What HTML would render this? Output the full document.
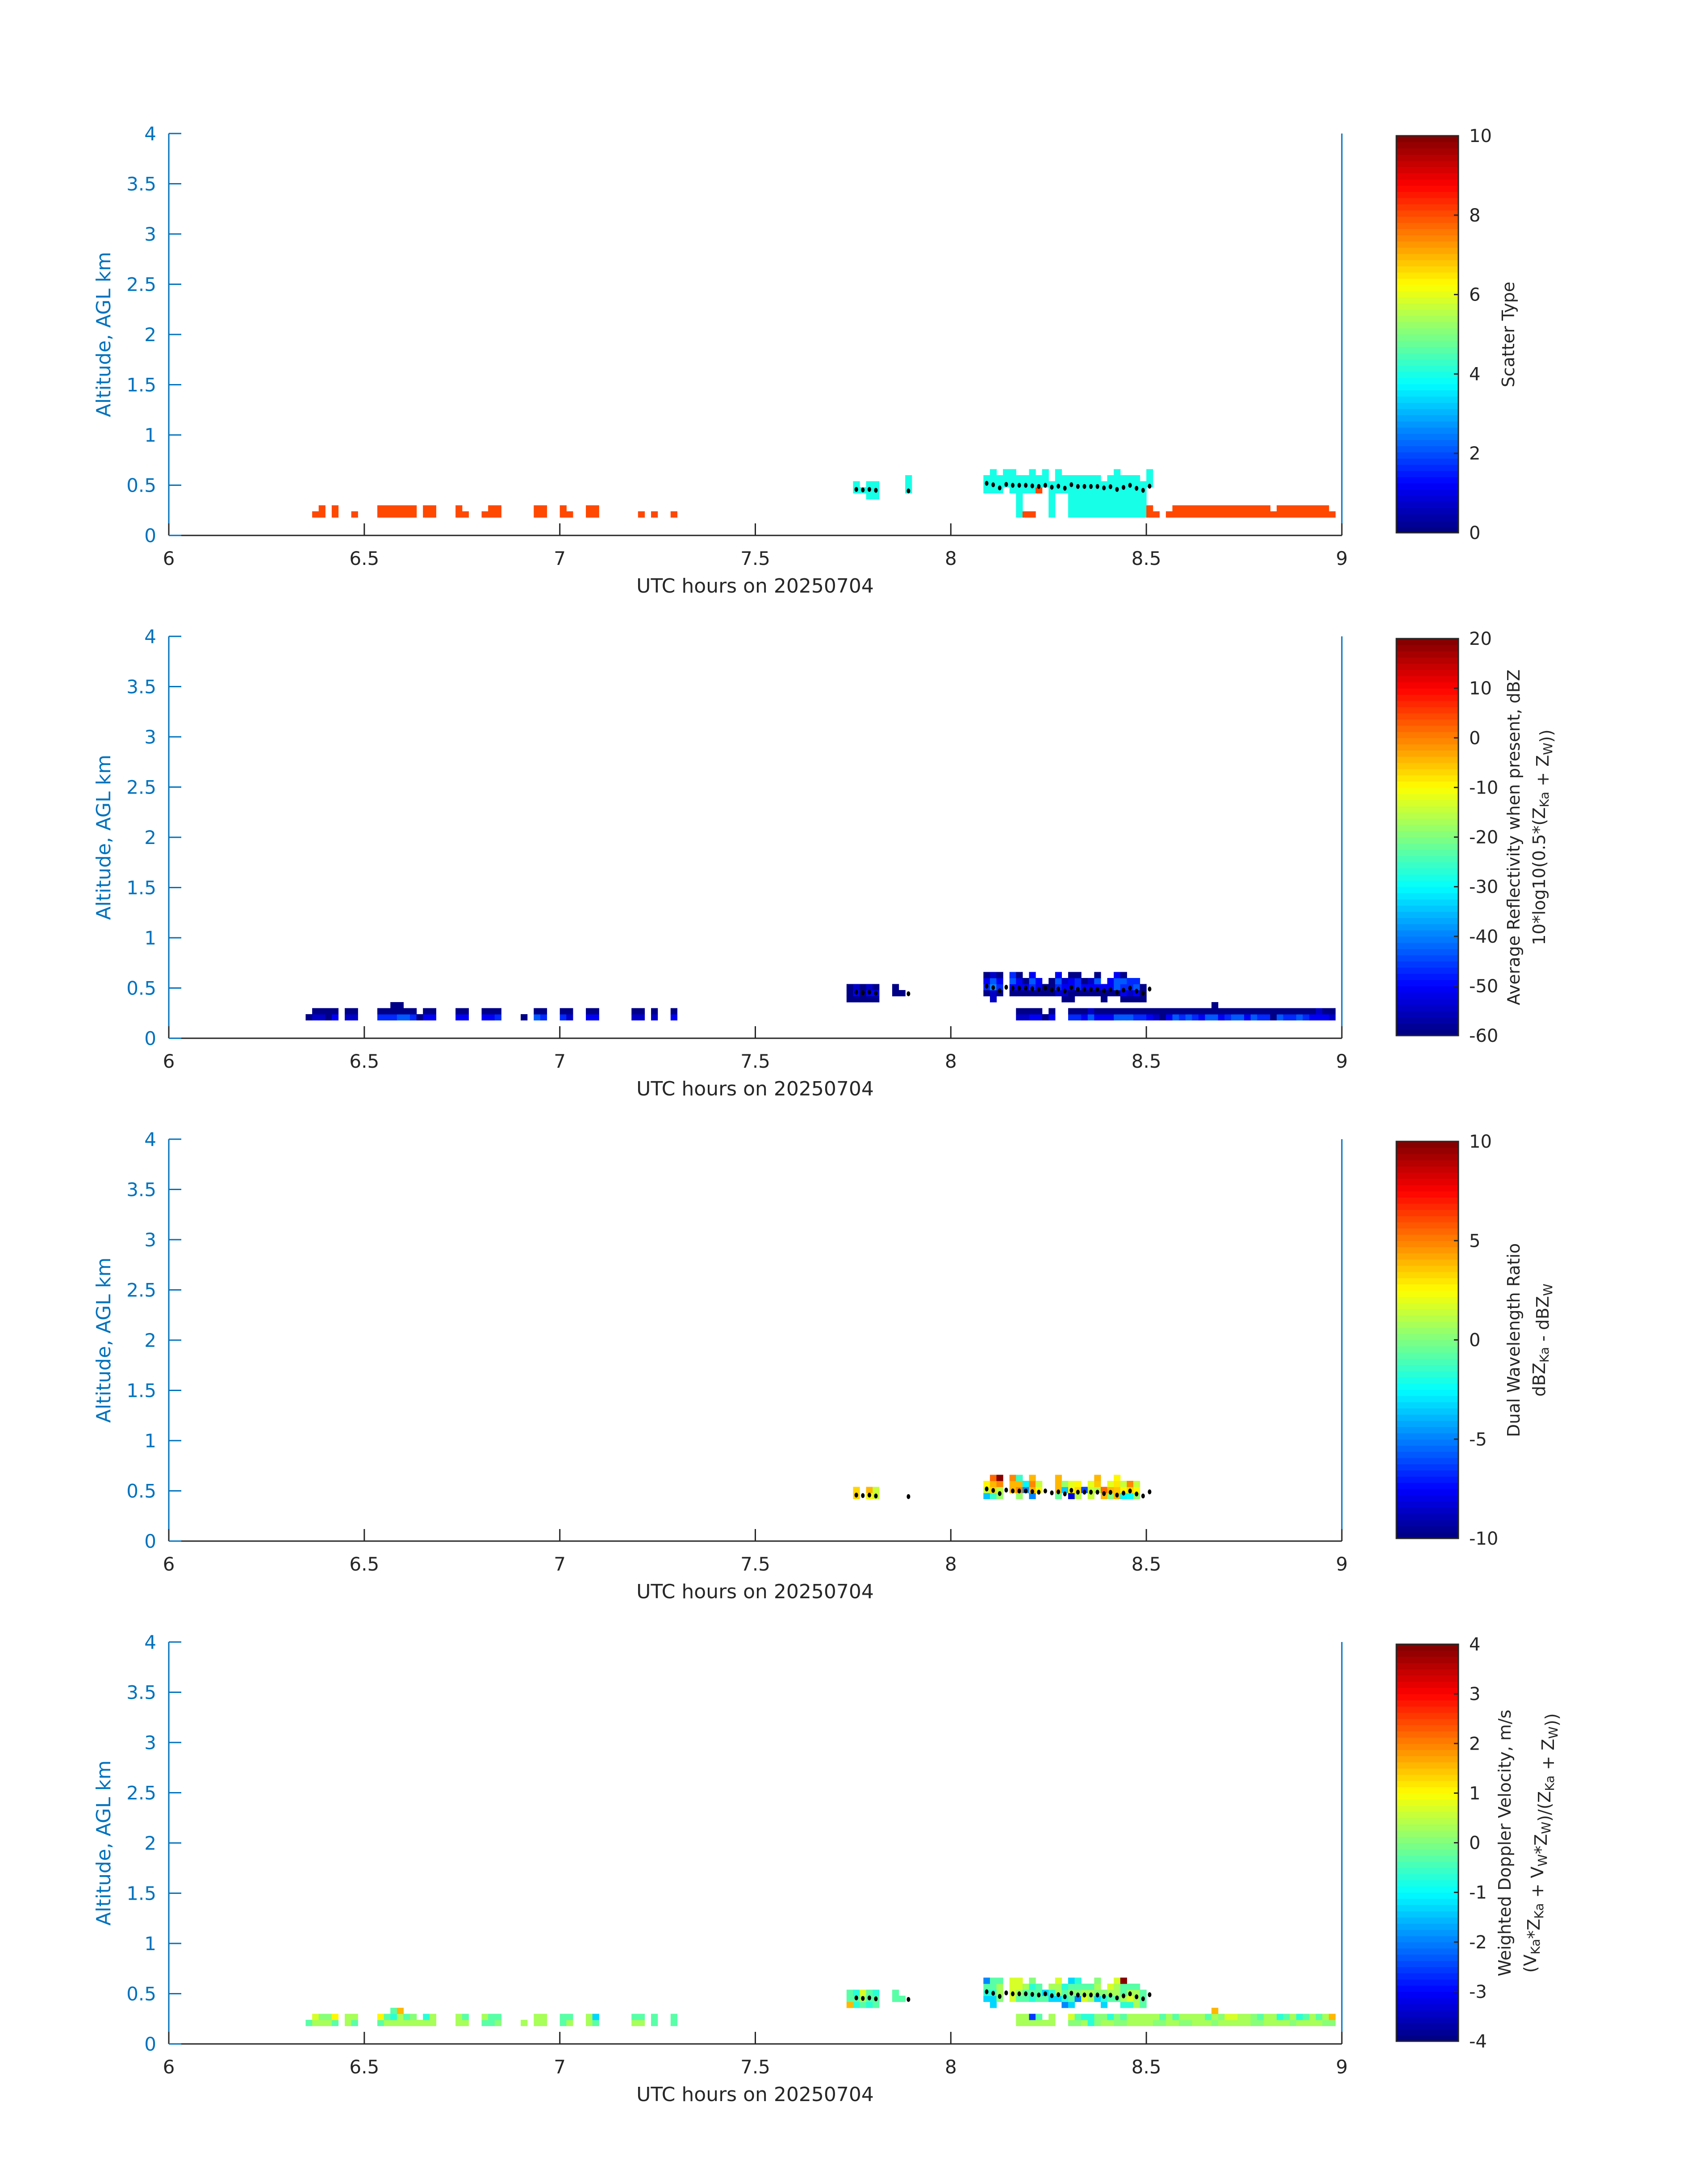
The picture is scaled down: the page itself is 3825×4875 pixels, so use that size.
<!DOCTYPE html>
<html><head><meta charset="utf-8">
<style>
html,body{margin:0;padding:0;background:#fff;}
svg{display:block;font-family:"DejaVu Sans","Liberation Sans",sans-serif;}
</style></head>
<body>
<svg id="fig" xmlns="http://www.w3.org/2000/svg" width="3825" height="4875" viewBox="0 0 3825 4875">
<rect width="3825" height="4875" fill="#fff"/>
</svg>
<script>
// ---- shared axes data ----
const xTicks = [6, 6.5, 7, 7.5, 8, 8.5, 9];
const yTicks = [0, 0.5, 1, 1.5, 2, 2.5, 3, 3.5, 4];
const rowAltBase = [0.18, 0.24, 0.30, 0.36, 0.42, 0.48, 0.54, 0.60];
// mean altitude dots: minute index (from 6 UTC) and altitude km
const dotMinutes = [105,106,107,108,113,125,126,127,128,129,130,131,132,133,134,135,136,137,138,139,140,141,142,143,144,145,146,147,148,149,150];
const dotAlts = [0.458,0.453,0.458,0.449,0.443,0.519,0.504,0.473,0.508,0.499,0.499,0.499,0.493,0.487,0.499,0.480,0.490,0.470,0.505,0.487,0.487,0.487,0.487,0.473,0.485,0.458,0.478,0.499,0.469,0.449,0.490];

// ---- panel 1: scatter type ----
const p1Codes = {o: 8, c: 4};
const p1Rows = [
 [[22,"oo"],[25,"o"],[28,"o"],[32,"oooooo"],[39,"oo"],[44,"oo"],[48,"ooo"],[56,"oo"],[60,"oo"],[64,"oo"],[72,"o"],[74,"o"],[77,"o"],[130,"coo"],[135,"c"],[138,"cccccccccccc"],[150,"oo"],[153,"oooooooooooooooooooooooooo"]],
 [[23,"o"],[25,"o"],[32,"oooooo"],[39,"oo"],[44,"o"],[49,"oo"],[56,"oo"],[60,"o"],[64,"oo"],[130,"c"],[135,"c"],[138,"cccccccccccc"],[150,"o"],[154,"ooooooooooooooo"],[170,"oooooooo"]],
 [[130,"c"],[135,"c"],[138,"cccccccccccc"]],
 [[107,"cc"],[130,"c"],[135,"c"],[138,"cccccccccccc"]],
 [[105,"cccc"],[113,"c"],[125,"ccc"],[129,"cccco"],[135,"ccccccccccccccc"]],
 [[105,"c"],[107,"cc"],[113,"c"],[125,"cccccccccccccccccccccccccc"]],
 [[113,"c"],[125,"cccccccccc"],[136,"ccccccc"],[144,"ccccc"],[150,"c"]],
 [[126,"c"],[128,"cc"],[132,"c"],[134,"c"],[136,"c"],[145,"c"],[150,"c"]]
];
// ---- panel 2: reflectivity dBZ ----
const p2Codes = {"0": -59, "1": -55, "2": -51, "3": -47, "4": -43, "5": -40};
const p2Rows = [
 [[21,"0"],[22,"1102"],[27,"11"],[32,"333443022"],[44,"22"],[48,"223"],[54,"0"],[56,"43"],[60,"31"],[64,"22"],[71,"11"],[74,"1"],[77,"2"],[130,"1122"],[134,"0"],[135,"2"],[138,"33242224443321024343244234424330433432221"]],
 [[22,"0000"],[27,"00"],[32,"000000"],[39,"00"],[44,"00"],[48,"000"],[56,"00"],[60,"00"],[64,"00"],[71,"00"],[74,"0"],[77,"0"],[130,"0000"],[135,"0"],[138,"00010000000000000000000000000000000000100"]],
 [[34,"00"],[160,"0"]],
 [[104,"00000"],[126,"1"],[137,"00"],[143,"0"],[146,"0000"]],
 [[104,"02022"],[111,"00"],[125,"010"],[129,"000000011000000002120"]],
 [[104,"01010"],[111,"0"],[125,"353"],[129,"222320032232222243340"]],
 [[125,"242"],[129,"42042"],[135,"04123014"],[144,"24433"]],
 [[125,"010"],[129,"30"],[132,"2"],[136,"2"],[138,"00"],[142,"0"],[145,"20"]]
];
// ---- panel 3: dual wavelength ratio dB ----
const p3Codes = {A:-8.4,B:-6.2,C:-4.7,D:-3.6,E:-2.8,F:-2.3,G:-1.4,H:-0.6,I:0,J:0.5,K:1.0,L:1.5,M:2.0,N:2.5,O:3.0,P:3.4,Q:4.0,R:4.7,S:5.5,T:10,U:3.6};
const p3Rows = [
 [],[],[],[],
 [[105,"P"],[107,"NL"],[125,"DGJ"],[130,"J"],[132,"C"],[136,"H"],[138,"AK"],[141,"L"],[143,"QIQEFJ"]],
 [[105,"P"],[107,"QL"],[125,"LPK"],[129,"QRCQN"],[136,"QDNPBLKSQUNPN"]],
 [[125,"NQR"],[129,"QQERL"],[136,"QJMN"],[141,"MU"],[144,"MOLRL"]],
 [[126,"ST"],[129,"RG"],[132,"Q"],[136,"Q"],[142,"Q"],[145,"N"]]
];
// ---- panel 4: weighted Doppler velocity m/s ----
const p4Codes = {a:0, b:0.3, c:-0.3, d:-0.7, e:-1.3, f:-2, g:0.7, h:1.6, i:4, j:-2.6, k:1.0, l:-1.0};
const p4Rows = [
 [[21,"c"],[22,"bbbc"],[27,"bc"],[32,"cbbbbbbbb"],[44,"bb"],[48,"cca"],[54,"b"],[56,"bb"],[60,"cb"],[64,"bc"],[71,"bb"],[74,"c"],[77,"c"],[130,"bbbbbb"],[138,"aabdabbaabbbbaabbaabbbabbbbbaabbbbabbbbaa"]],
 [[22,"gaak"],[27,"bb"],[32,"kcdbca"],[39,"db"],[44,"bc"],[48,"bcc"],[56,"bb"],[60,"cc"],[64,"be"],[71,"cc"],[74,"c"],[77,"c"],[130,"bbjc"],[135,"b"],[138,"gcddaadacbbbbbcbcbbbbcbaggbbacbbdcbdcbcbh"]],
 [[34,"ch"],[160,"h"]],
 [[104,"hdcdc"],[126,"e"],[137,"fe"],[143,"e"],[146,"ddbc"]],
 [[104,"ccbcc"],[111,"cc"],[125,"eea"],[129,"gccdcceedcfgbedccbgbc"]],
 [[104,"cdgcd"],[111,"c"],[125,"ddb"],[129,"gbcccedbcaabbaabbcbbc"]],
 [[125,"ccb"],[129,"ggbdc"],[135,"bbdccccb"],[144,"gbccc"]],
 [[125,"fcc"],[129,"gg"],[132,"a"],[136,"g"],[138,"ed"],[142,"a"],[145,"gi"]]
];
const p1Ticks = [0,2,4,6,8,10];
const p2Ticks = [-60,-50,-40,-30,-20,-10,0,10,20];
const p3Ticks = [-10,-5,0,5,10];
const p4Ticks = [-4,-3,-2,-1,0,1,2,3,4];

// ---- layout ----
const NS = "http://www.w3.org/2000/svg";
const svg = document.getElementById("fig");
const X0 = 378, X1 = 3005, PANEL_STEP = 1126, BOTTOM0 = 1199, AX_H = 900;
const CB_X0 = 3127, CB_X1 = 3266;
const BLUE = "#0072BD";
function xs(h){ return X0 + (h - 6) / 3 * (X1 - X0); }
function mk(tag, attrs, parent){ const e = document.createElementNS(NS, tag); for (const k in attrs) e.setAttribute(k, attrs[k]); (parent||svg).appendChild(e); return e; }
function jet(t){
  let idx = Math.floor(t * 64); if (idx < 0) idx = 0; if (idx > 63) idx = 63;
  const u = (idx + 0.5) / 64;
  const cl = v => Math.max(0, Math.min(1, v));
  const r = cl(1.5 - Math.abs(4*u - 3)), g = cl(1.5 - Math.abs(4*u - 2)), b = cl(1.5 - Math.abs(4*u - 1));
  return "rgb(" + Math.round(r*255) + "," + Math.round(g*255) + "," + Math.round(b*255) + ")";
}

const panels = [
 {rows: p1Rows, codes: p1Codes, lo: 0, hi: 10, ticks: p1Ticks, name: "scatter-type", labels: [[{t:"Scatter Type"}]], lx: [3378]},
 {rows: p2Rows, codes: p2Codes, lo: -60, hi: 20, ticks: p2Ticks, name: "reflectivity",
  labels: [[{t:"Average Reflectivity when present, dBZ"}], [{t:"10*log10(0.5*(Z"},{t:"Ka",s:1},{t:" + Z"},{t:"W",s:1},{t:"))"}]], lx: [3390, 3447]},
 {rows: p3Rows, codes: p3Codes, lo: -10, hi: 10, ticks: p3Ticks, name: "dual-wavelength-ratio",
  labels: [[{t:"Dual Wavelength Ratio"}], [{t:"dBZ"},{t:"Ka",s:1},{t:" - dBZ"},{t:"W",s:1}]], lx: [3390, 3447]},
 {rows: p4Rows, codes: p4Codes, lo: -4, hi: 4, ticks: p4Ticks, name: "doppler-velocity",
  labels: [[{t:"Weighted Doppler Velocity, m/s"}], [{t:"(V"},{t:"Ka",s:1},{t:"*Z"},{t:"Ka",s:1},{t:" + V"},{t:"W",s:1},{t:"*Z"},{t:"W",s:1},{t:")/(Z"},{t:"Ka",s:1},{t:" + Z"},{t:"W",s:1},{t:"))"}]], lx: [3370, 3427]}
];

panels.forEach((p, pi) => {
  const yb = BOTTOM0 + PANEL_STEP * pi, yt = yb - AX_H;
  const ys = a => yb - a / 4 * AX_H;
  const g = mk("g", {});  
  const cells = mk("g", {}, g);
   
  p.rows.forEach((segs, r) => {
    segs.forEach(seg => {
      const start = seg[0], str = seg[1];
      for (let k = 0; k < str.length; k++) {
        const v = p.codes[str[k]];
        if (v === undefined) continue;
        const m = start + k;
        const xa = xs(6 + m/60), xb = xs(6 + (m+1)/60);
        const a0 = rowAltBase[r], a1 = a0 + 0.06;
        const c = mk("rect", {x: xa.toFixed(2), y: ys(a1).toFixed(2), width: (xb-xa+0.6).toFixed(2), height: (ys(a0)-ys(a1)+0.6).toFixed(2), fill: jet((v - p.lo)/(p.hi - p.lo))}, cells);
        
        
      }
    });
  });
  const dg = mk("g", {}, g);
   
  dotMinutes.forEach((m, i) => {
    const d = mk("ellipse", {cx: xs(6 + (m + 0.5)/60).toFixed(2), cy: ys(dotAlts[i]).toFixed(2), rx: 4, ry: 5.5, fill: "#000"}, dg);
    
    
  });
  const ax = mk("g", {}, g);
   
  mk("line", {x1: X0, y1: yb, x2: X1, y2: yb, stroke: "#262626", "stroke-width": 3}, ax);
  mk("line", {x1: X0, y1: yt, x2: X0, y2: yb, stroke: BLUE, "stroke-width": 3}, ax);
  mk("line", {x1: X1, y1: yt, x2: X1, y2: yb, stroke: BLUE, "stroke-width": 3}, ax);
  xTicks.forEach(t => {
    const x = xs(t);
    mk("line", {x1: x, y1: yb, x2: x, y2: yb - 27, stroke: "#262626", "stroke-width": 3}, ax);
    const tx = mk("text", {x: x, y: yb + 66, "font-size": 42, fill: "#262626", "text-anchor": "middle"}, ax);
    tx.textContent = String(t);
     
  });
  yTicks.forEach(t => {
    const y = ys(t);
    mk("line", {x1: X0, y1: y, x2: X0 + 28, y2: y, stroke: BLUE, "stroke-width": 3}, ax);
    const tx = mk("text", {x: 350, y: y + 15, "font-size": 42, fill: BLUE, "text-anchor": "end"}, ax);
    tx.textContent = String(t);
     
  });
  const xt = mk("text", {x: 1691, y: yb + 128, "font-size": 44, fill: "#262626", "text-anchor": "middle"}, g);
  xt.textContent = "UTC hours on 20250704";
   
  const ym = (yt + yb) / 2;
  const yl = mk("text", {x: 0, y: 0, "font-size": 44, fill: BLUE, "text-anchor": "middle", transform: "translate(247," + ym + ") rotate(-90)"}, g);
  yl.textContent = "Altitude, AGL km";
   
  const cb = mk("g", {}, g);
   
  const ct = yt + 5, cbt = yb - 6, nL = 64, hL = (cbt - ct) / nL;
  for (let i = 0; i < nL; i++) {
    mk("rect", {x: CB_X0, y: (cbt - (i+1)*hL).toFixed(2), width: CB_X1 - CB_X0, height: (hL + 0.7).toFixed(2), fill: jet((i + 0.5)/nL)}, cb);
  }
  mk("rect", {x: CB_X0, y: ct, width: CB_X1 - CB_X0, height: cbt - ct, fill: "none", stroke: "#262626", "stroke-width": 3}, cb);
  p.ticks.forEach(t => {
    const y = cbt - (t - p.lo)/(p.hi - p.lo) * (cbt - ct);
    mk("line", {x1: CB_X1 - 10, y1: y, x2: CB_X1, y2: y, stroke: "#262626", "stroke-width": 3}, cb);
    const tx = mk("text", {x: 3290, y: y + 14, "font-size": 40, fill: "#262626"}, cb);
    tx.textContent = String(t);
     
  });
  p.labels.forEach((parts, li) => {
    const tx = mk("text", {x: 0, y: 0, "font-size": 38, fill: "#262626", "text-anchor": "middle", transform: "translate(" + (p.lx[li] + 13) + "," + ym + ") rotate(-90)"}, cb);
     
    parts.forEach(pt => {
      const s = mk("tspan", pt.s ? {"font-size": 28, dy: 8} : {dy: 0}, tx);
      s.textContent = pt.t;
      if (pt.s) { const r = mk("tspan", {dy: -8, "font-size": 1}, tx); r.textContent = ""; }
    });
  });
});
</script>
</body></html>
